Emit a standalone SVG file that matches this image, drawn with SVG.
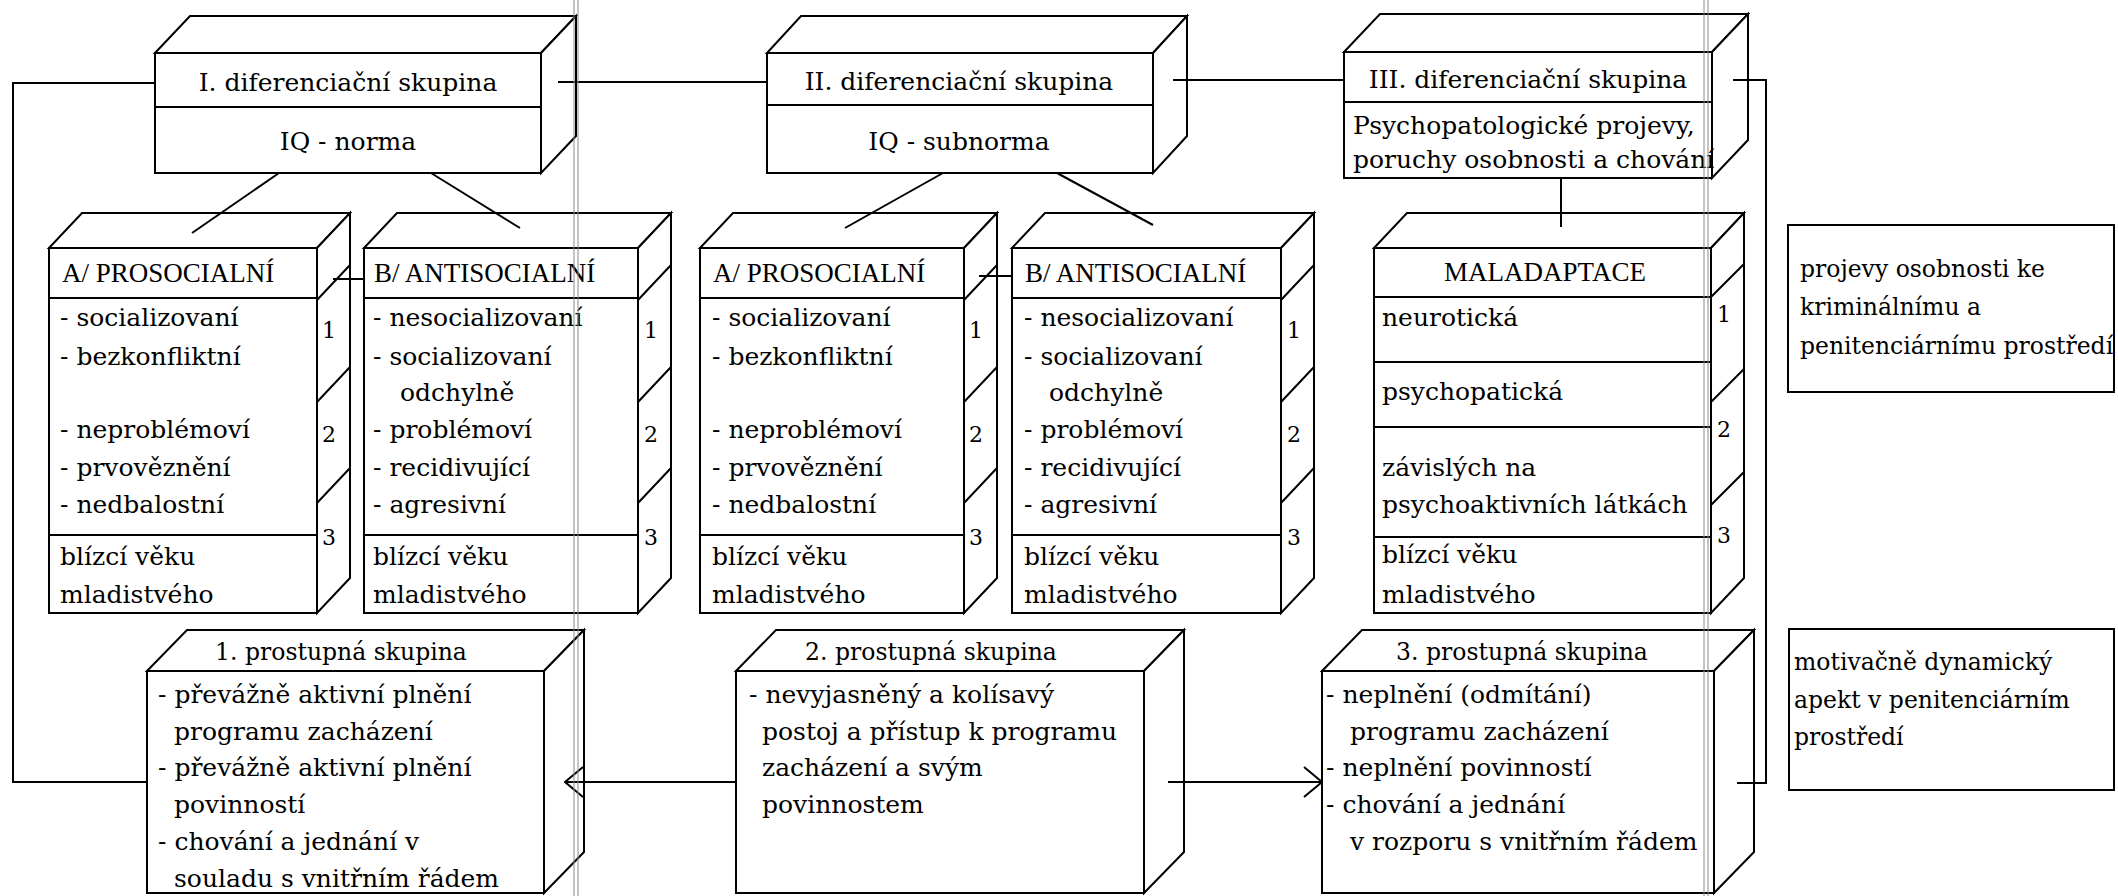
<svg xmlns="http://www.w3.org/2000/svg" width="2118" height="896" viewBox="0 0 2118 896">
<style>
.f{fill:#fff;stroke:#000;stroke-width:2;stroke-linejoin:miter}
.l{fill:none;stroke:#000;stroke-width:2}
.scan{fill:none;stroke:#8a8a8a;stroke-width:1}
text{font-family:"DejaVu Serif","Liberation Serif",serif;font-size:25px;fill:#000}
.h{font-family:"Liberation Serif",serif;font-size:27px}
.s{font-size:23.5px}
.n{font-size:22px;text-anchor:middle}
.c{text-anchor:middle}
</style>
<defs>
<marker id="arr" markerUnits="userSpaceOnUse" viewBox="0 0 20 32" markerWidth="20" markerHeight="32" refX="19" refY="16" orient="auto">
<path d="M1,1 L19,16 L1,31" fill="none" stroke="#000" stroke-width="2"/>
</marker>
</defs>
<rect width="2118" height="896" fill="#fff"/>

<g id="dif1">
<polygon class="f" points="155,53 190,16 576,16 541,53"/>
<polygon class="f" points="541,53 576,16 576,136 541,173"/>
<rect class="f" x="155" y="53" width="386" height="120"/>
<line class="l" x1="155" y1="107" x2="541" y2="107"/>
<text class="c" x="348" y="91">I. diferenciační skupina</text>
<text class="c" x="348" y="150">IQ - norma</text>
</g>

<g id="dif2">
<polygon class="f" points="767,53 801,16 1187,16 1153,53"/>
<polygon class="f" points="1153,53 1187,16 1187,136 1153,173"/>
<rect class="f" x="767" y="53" width="386" height="120"/>
<line class="l" x1="767" y1="105" x2="1153" y2="105"/>
<text class="c" x="959" y="90">II. diferenciační skupina</text>
<text class="c" x="959" y="150">IQ - subnorma</text>
</g>

<g id="dif3">
<polygon class="f" points="1344,52 1380,14 1748,14 1712,52"/>
<polygon class="f" points="1712,52 1748,14 1748,140 1712,178"/>
<rect class="f" x="1344" y="52" width="368" height="126"/>
<line class="l" x1="1344" y1="102" x2="1712" y2="102"/>
<text class="c" x="1528" y="88">III. diferenciační skupina</text>
<text x="1353" y="134">Psychopatologické projevy,</text>
<text x="1353" y="168">poruchy osobnosti a chování</text>
</g>

<g id="a1">
<polygon class="f" points="49,248 82,213 350,213 317,248"/>
<polygon class="f" points="317,248 350,213 350,578 317,613"/>
<rect class="f" x="49" y="248" width="268" height="365"/>
<line class="l" x1="49" y1="298" x2="317" y2="298"/>
<line class="l" x1="49" y1="535" x2="317" y2="535"/>
<path class="l" d="M317,300 L350,265 M317,402 L350,367 M317,503 L350,468"/>
<text class="h" x="62" y="282">A/ PROSOCIALNÍ</text>
<text x="60" y="326">- socializovaní</text>
<text x="60" y="365">- bezkonfliktní</text>
<text x="60" y="438">- neproblémoví</text>
<text x="60" y="476">- prvověznění</text>
<text x="60" y="513">- nedbalostní</text>
<text x="60" y="565">blízcí věku</text>
<text x="60" y="603">mladistvého</text>
<text class="n" x="329" y="338">1</text>
<text class="n" x="329" y="442">2</text>
<text class="n" x="329" y="545">3</text>
</g>

<g id="b1">
<polygon class="f" points="364,248 397,213 671,213 638,248"/>
<polygon class="f" points="638,248 671,213 671,578 638,613"/>
<rect class="f" x="364" y="248" width="274" height="365"/>
<line class="l" x1="364" y1="298" x2="638" y2="298"/>
<line class="l" x1="364" y1="535" x2="638" y2="535"/>
<path class="l" d="M638,300 L671,265 M638,402 L671,367 M638,503 L671,468"/>
<text class="h" x="374" y="282">B/ ANTISOCIALNÍ</text>
<text x="373" y="326">- nesocializovaní</text>
<text x="373" y="365">- socializovaní</text>
<text x="400" y="401">odchylně</text>
<text x="373" y="438">- problémoví</text>
<text x="373" y="476">- recidivující</text>
<text x="373" y="513">- agresivní</text>
<text x="373" y="565">blízcí věku</text>
<text x="373" y="603">mladistvého</text>
<text class="n" x="651" y="338">1</text>
<text class="n" x="651" y="442">2</text>
<text class="n" x="651" y="545">3</text>
</g>

<g id="a2">
<polygon class="f" points="700,248 733,213 997,213 964,248"/>
<polygon class="f" points="964,248 997,213 997,578 964,613"/>
<rect class="f" x="700" y="248" width="264" height="365"/>
<line class="l" x1="700" y1="298" x2="964" y2="298"/>
<line class="l" x1="700" y1="535" x2="964" y2="535"/>
<path class="l" d="M964,300 L997,265 M964,402 L997,367 M964,503 L997,468"/>
<text class="h" x="713" y="282">A/ PROSOCIALNÍ</text>
<text x="712" y="326">- socializovaní</text>
<text x="712" y="365">- bezkonfliktní</text>
<text x="712" y="438">- neproblémoví</text>
<text x="712" y="476">- prvověznění</text>
<text x="712" y="513">- nedbalostní</text>
<text x="712" y="565">blízcí věku</text>
<text x="712" y="603">mladistvého</text>
<text class="n" x="976" y="338">1</text>
<text class="n" x="976" y="442">2</text>
<text class="n" x="976" y="545">3</text>
</g>

<g id="b2">
<polygon class="f" points="1012,248 1045,213 1314,213 1281,248"/>
<polygon class="f" points="1281,248 1314,213 1314,578 1281,613"/>
<rect class="f" x="1012" y="248" width="269" height="365"/>
<line class="l" x1="1012" y1="298" x2="1281" y2="298"/>
<line class="l" x1="1012" y1="535" x2="1281" y2="535"/>
<path class="l" d="M1281,300 L1314,265 M1281,402 L1314,367 M1281,503 L1314,468"/>
<text class="h" x="1025" y="282">B/ ANTISOCIALNÍ</text>
<text x="1024" y="326">- nesocializovaní</text>
<text x="1024" y="365">- socializovaní</text>
<text x="1049" y="401">odchylně</text>
<text x="1024" y="438">- problémoví</text>
<text x="1024" y="476">- recidivující</text>
<text x="1024" y="513">- agresivní</text>
<text x="1024" y="565">blízcí věku</text>
<text x="1024" y="603">mladistvého</text>
<text class="n" x="1294" y="338">1</text>
<text class="n" x="1294" y="442">2</text>
<text class="n" x="1294" y="545">3</text>
</g>

<g id="mal">
<polygon class="f" points="1374,248 1407,213 1744,213 1711,248"/>
<polygon class="f" points="1711,248 1744,213 1744,578 1711,613"/>
<rect class="f" x="1374" y="248" width="337" height="365"/>
<path class="l" d="M1374,297 H1711 M1374,362 H1711 M1374,427 H1711 M1374,537 H1711"/>
<path class="l" d="M1711,297 L1744,264 M1711,402 L1744,369 M1711,505 L1744,472"/>
<text class="h c" x="1545" y="281">MALADAPTACE</text>
<text x="1382" y="326">neurotická</text>
<text x="1382" y="400">psychopatická</text>
<text x="1382" y="476">závislých na</text>
<text x="1382" y="513">psychoaktivních látkách</text>
<text x="1382" y="563">blízcí věku</text>
<text x="1382" y="603">mladistvého</text>
<text class="n" x="1724" y="322">1</text>
<text class="n" x="1724" y="437">2</text>
<text class="n" x="1724" y="543">3</text>
</g>

<g id="p1">
<polygon class="f" points="147,671 187,630 584,630 544,671"/>
<polygon class="f" points="544,671 584,630 584,852 544,893"/>
<rect class="f" x="147" y="671" width="397" height="222"/>
<text class="s c" x="341" y="660">1. prostupná skupina</text>
<text x="158" y="703">- převážně aktivní plnění</text>
<text x="174" y="740">programu zacházení</text>
<text x="158" y="776">- převážně aktivní plnění</text>
<text x="174" y="813">povinností</text>
<text x="158" y="850">- chování a jednání v</text>
<text x="174" y="887">souladu s vnitřním řádem</text>
</g>

<g id="p2">
<polygon class="f" points="736,671 776,630 1184,630 1144,671"/>
<polygon class="f" points="1144,671 1184,630 1184,852 1144,893"/>
<rect class="f" x="736" y="671" width="408" height="222"/>
<text class="s c" x="931" y="660">2. prostupná skupina</text>
<text x="749" y="703">- nevyjasněný a kolísavý</text>
<text x="762" y="740">postoj a přístup k programu</text>
<text x="762" y="776">zacházení a svým</text>
<text x="762" y="813">povinnostem</text>
</g>

<g id="p3">
<polygon class="f" points="1322,671 1362,630 1754,630 1714,671"/>
<polygon class="f" points="1714,671 1754,630 1754,852 1714,893"/>
<rect class="f" x="1322" y="671" width="392" height="222"/>
<text class="s c" x="1522" y="660">3. prostupná skupina</text>
<text x="1326" y="703">- neplnění (odmítání)</text>
<text x="1350" y="740">programu zacházení</text>
<text x="1326" y="776">- neplnění povinností</text>
<text x="1326" y="813">- chování a jednání</text>
<text x="1350" y="850">v rozporu s vnitřním řádem</text>
</g>

<g id="note1">
<rect class="f" x="1788" y="225" width="326" height="167"/>
<text class="s" x="1800" y="277">projevy osobnosti ke</text>
<text class="s" x="1800" y="315">kriminálnímu a</text>
<text class="s" x="1800" y="354">penitenciárnímu prostředí</text>
</g>

<g id="note2">
<rect class="f" x="1789" y="629" width="325" height="161"/>
<text class="s" x="1794" y="670">motivačně dynamický</text>
<text class="s" x="1794" y="708">apekt v penitenciárním</text>
<text class="s" x="1794" y="745">prostředí</text>
</g>

<g id="connectors">
<polyline class="l" points="155,83 13,83 13,782 147,782"/>
<line class="l" x1="558" y1="82" x2="767" y2="82"/>
<line class="l" x1="1173" y1="80" x2="1344" y2="80"/>
<polyline class="l" points="1733,80 1766,80 1766,783 1737,783"/>
<line class="l" x1="1561" y1="178" x2="1561" y2="227"/>
<line class="l" x1="279" y1="173" x2="192" y2="233"/>
<line class="l" x1="431" y1="173" x2="520" y2="228"/>
<line class="l" x1="943" y1="173" x2="845" y2="228"/>
<line class="l" x1="1057" y1="173" x2="1153" y2="225"/>
<line class="l" x1="333" y1="279" x2="364" y2="279"/>
<line class="l" x1="979" y1="276" x2="1012" y2="276"/>
<line class="l" x1="736" y1="782" x2="565" y2="782" marker-end="url(#arr)"/>
<line class="l" x1="1168" y1="782" x2="1322" y2="782" marker-end="url(#arr)"/>
</g>

<g id="scan-lines">
<path class="scan" d="M574,0 V896 M578,0 V896 M1704,0 V896 M1708,0 V896"/>
</g>
</svg>
